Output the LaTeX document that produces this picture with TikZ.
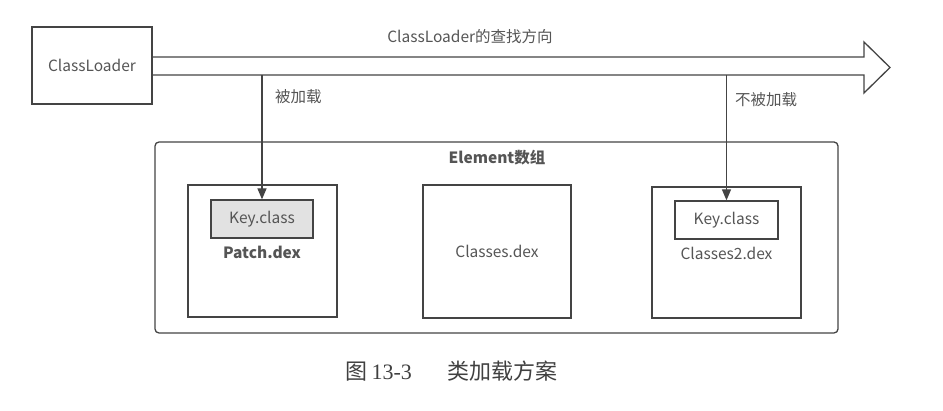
\documentclass[tikz,border=0pt]{standalone}
\usepackage{fontspec}
\setmainfont{Noto Sans CJK SC}
\newfontfamily\numserif{Liberation Serif}
\usetikzlibrary{arrows.meta}
\definecolor{ink}{HTML}{444444}
\definecolor{txt}{HTML}{555555}
\definecolor{keyfill}{HTML}{E2E2E2}
\tikzset{
  box/.style={draw=ink, line width=1.3pt, inner sep=0pt},
  lbl/.style={text=txt, font=\fontsize{15.5}{18}\selectfont, inner sep=0pt},
  boldlbl/.style={text=txt, font=\fontsize{15.5}{18}\selectfont\bfseries, inner sep=0pt},
  down/.style={draw=ink, line width=1.3pt, -{Triangle[length=11pt,width=9pt]}},
}
\begin{document}
\begin{tikzpicture}[x=1pt, y=-1pt]
\useasboundingbox (0,0) rectangle (943,411);

% loader box
\node[box, lbl, minimum width=120pt, minimum height=77pt] (cl) at (92,65.5) {ClassLoader};

% hollow search-direction arrow
\draw[ink, line width=1.3pt, line join=miter]
  (152,57) -- (864,57) -- (864,42) -- (890,67.5) -- (864,93) -- (864,75) -- (152,75);
\node[lbl, anchor=center] (dir) at (470,37) {ClassLoader的查找方向};

% element array container
\node[box, rounded corners=4pt, minimum width=683pt, minimum height=191pt] (arr) at (496.5,237.5) {};
\node[boldlbl] (arrlbl) at (497,158) {Element数组};

% dex files
\node[box, minimum width=149pt, minimum height=132pt] (patch) at (262.5,251) {};
\node[box, fill=keyfill, lbl, minimum width=102pt, minimum height=38pt] (k1) at (262,219) {Key.class};
\node[boldlbl] (patchlbl) at (262,252) {Patch.dex};

\node[box, lbl, minimum width=148pt, minimum height=133pt] (classes) at (497,251.5) {Classes.dex};

\node[box, minimum width=149pt, minimum height=131pt] (classes2) at (726.5,252.5) {};
\node[box, lbl, minimum width=103pt, minimum height=38pt] (k2) at (726.5,220) {Key.class};
\node[lbl] (c2lbl) at (726.5,253) {Classes2.dex};

% lookup connectors
\coordinate (s1) at (262,75);
\coordinate (s2) at (726.5,75);
\draw[down] (s1) -- (k1.north);
\draw[down] (s2) -- (k2.north);
\node[lbl, anchor=west] (loaded) at (275,97) {被加载};
\node[lbl, anchor=west] (notloaded) at (735,100) {不被加载};

% caption
\node[text=black!75, font=\fontsize{22}{26}\selectfont, inner sep=0pt] (cap) at (451.5,371)
  {图\,{\numserif 13-3}\hspace{1.6em}类加载方案};
\end{tikzpicture}
\end{document}
